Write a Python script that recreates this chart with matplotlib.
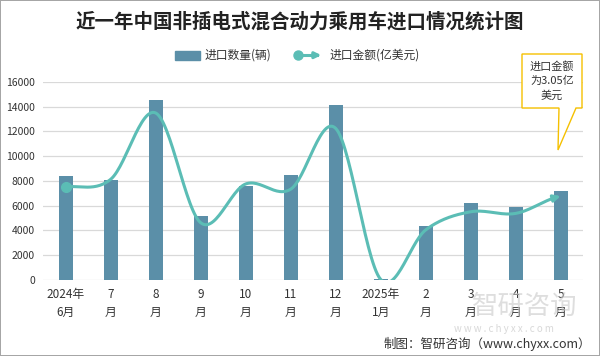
import numpy as np
import matplotlib
matplotlib.use("Agg")
import matplotlib.pyplot as plt
import matplotlib.patches as mpatches
from matplotlib.lines import Line2D

plt.rcParams["font.family"] = ["Noto Sans CJK SC", "DejaVu Sans"]

months = ["2024年\n6月", "7\n月", "8\n月", "9\n月", "10\n月", "11\n月", "12\n月",
          "2025年\n1月", "2\n月", "3\n月", "4\n月", "5\n月"]
quantity = [8390, 8070, 14520, 5190, 7610, 8470, 14120, 80, 4380, 6210, 5915, 7180]
amount = [3.39, 3.66, 6.07, 2.08, 3.49, 3.30, 5.51, 0.02, 1.82, 2.48, 2.42, 3.05]

bar_color = "#5B8FA8"
line_color = "#5BBDB5"
grid_color = "#D9D9D9"


def smooth_curve(xs, ys, steps=30):
    # catmull-rom style smoothing, like the office "smooth line" option
    xs = np.asarray(xs, float)
    ys = np.asarray(ys, float)
    px = np.concatenate([[2 * xs[0] - xs[1]], xs, [2 * xs[-1] - xs[-2]]])
    py = np.concatenate([[ys[0]], ys, [ys[-1]]])
    out_x, out_y = [], []
    t = np.linspace(0, 1, steps)
    for i in range(1, len(px) - 2):
        for arr, out in ((px, out_x), (py, out_y)):
            p0, p1, p2, p3 = arr[i - 1], arr[i], arr[i + 1], arr[i + 2]
            seg = 0.5 * ((2 * p1) + (-p0 + p2) * t
                         + (2 * p0 - 5 * p1 + 4 * p2 - p3) * t ** 2
                         + (-p0 + 3 * p1 - 3 * p2 + p3) * t ** 3)
            out.extend(seg if i == 1 else seg[1:])
    return np.array(out_x), np.array(out_y)


fig = plt.figure(figsize=(6, 3.56), dpi=100)
fig.patch.set_edgecolor("#A6A6A6")
fig.patch.set_linewidth(1.2)

# faint watermark sits behind everything
fig.text(0.875, 0.138, "智研咨询", ha="center", va="center", fontsize=19,
         color="#C8C8C8", alpha=0.6, zorder=0)
fig.text(0.84, 0.075, "w w w . c h y x x . c o m", ha="center", va="center", fontsize=7,
         color="#C8C8C8", alpha=0.7, zorder=0)

ax = fig.add_axes([0.072, 0.2135, 0.9, 0.5565])
ax.patch.set_alpha(0)
x = np.arange(len(months))
ax.bar(x, quantity, width=0.31, color=bar_color, zorder=2)
ax.set_xlim(-0.5, len(months) - 0.5)
ax.set_ylim(0, 16000)
ax.set_yticks(np.arange(0, 16001, 2000))
ax.tick_params(axis="y", length=0, labelsize=7.5, colors="#333333", pad=6)
ax.set_xticks(x)
ax.set_xticklabels(months, fontsize=8.5, color="#333333", linespacing=1.5)
ax.tick_params(axis="x", length=0, pad=6)
ax.grid(axis="y", color=grid_color, linewidth=0.9, zorder=0)
for s in ax.spines.values():
    s.set_visible(False)

ax2 = ax.twinx()
ax2.set_ylim(0, 7.2)
ax2.axis("off")
sx, sy = smooth_curve(x, amount)
ax2.plot(sx[:-4], sy[:-4], color=line_color, linewidth=2.2, solid_capstyle="round", zorder=3)
ax2.annotate("", xy=(sx[-1], sy[-1]), xytext=(sx[-6], sy[-6]),
             arrowprops=dict(arrowstyle="-|>", color=line_color, lw=2.2,
                             mutation_scale=10, shrinkA=0, shrinkB=0))
ax2.plot(x[0], amount[0], "o", color=line_color, markersize=7, zorder=4)

fig.text(0.5, 0.938, "近一年中国非插电式混合动力乘用车进口情况统计图",
         ha="center", va="center", fontsize=14, fontweight="bold", color="#222222")

# legend drawn by hand so the line sample can carry its dot and arrow
fig.patches.append(mpatches.Rectangle((0.292, 0.832), 0.042, 0.026, color=bar_color,
                                      transform=fig.transFigure, figure=fig))
fig.text(0.341, 0.845, "进口数量(辆)", ha="left", va="center", fontsize=8.5, color="#333333")
fig.add_artist(Line2D([0.497, 0.528], [0.845, 0.845], color=line_color, lw=2.2,
                      transform=fig.transFigure))
fig.add_artist(Line2D([0.497], [0.845], marker="o", color=line_color, markersize=6.5,
                      transform=fig.transFigure))
fig.add_artist(mpatches.FancyArrowPatch((0.515, 0.845), (0.54, 0.845), arrowstyle="-|>",
                                        mutation_scale=9, color=line_color, lw=2.2,
                                        transform=fig.transFigure))
fig.text(0.55, 0.845, "进口金额(亿美元)", ha="left", va="center", fontsize=8.5, color="#333333")

# callout for the latest month
box_l, box_r, box_t, box_b = 522 / 600, 582 / 600, 1 - 54 / 356, 1 - 108 / 356
callout = mpatches.Polygon(
    [(box_l, box_t), (box_r, box_t), (box_r, box_b), (576 / 600, box_b),
     (558 / 600, 1 - 150 / 356), (559 / 600, box_b), (box_l, box_b)],
    closed=True, facecolor="white", edgecolor="#F5C000", linewidth=1.0,
    transform=fig.transFigure)
fig.patches.append(callout)
fig.text((box_l + box_r) / 2, (box_t + box_b) / 2, "进口金额\n为3.05亿\n美元",
         ha="center", va="center", fontsize=8, color="#333333", linespacing=1.45)

fig.text(0.985, 0.035, "制图：智研咨询（www.chyxx.com）", ha="right", va="center",
         fontsize=9, color="#333333")

fig.savefig("out.png", dpi=100)
